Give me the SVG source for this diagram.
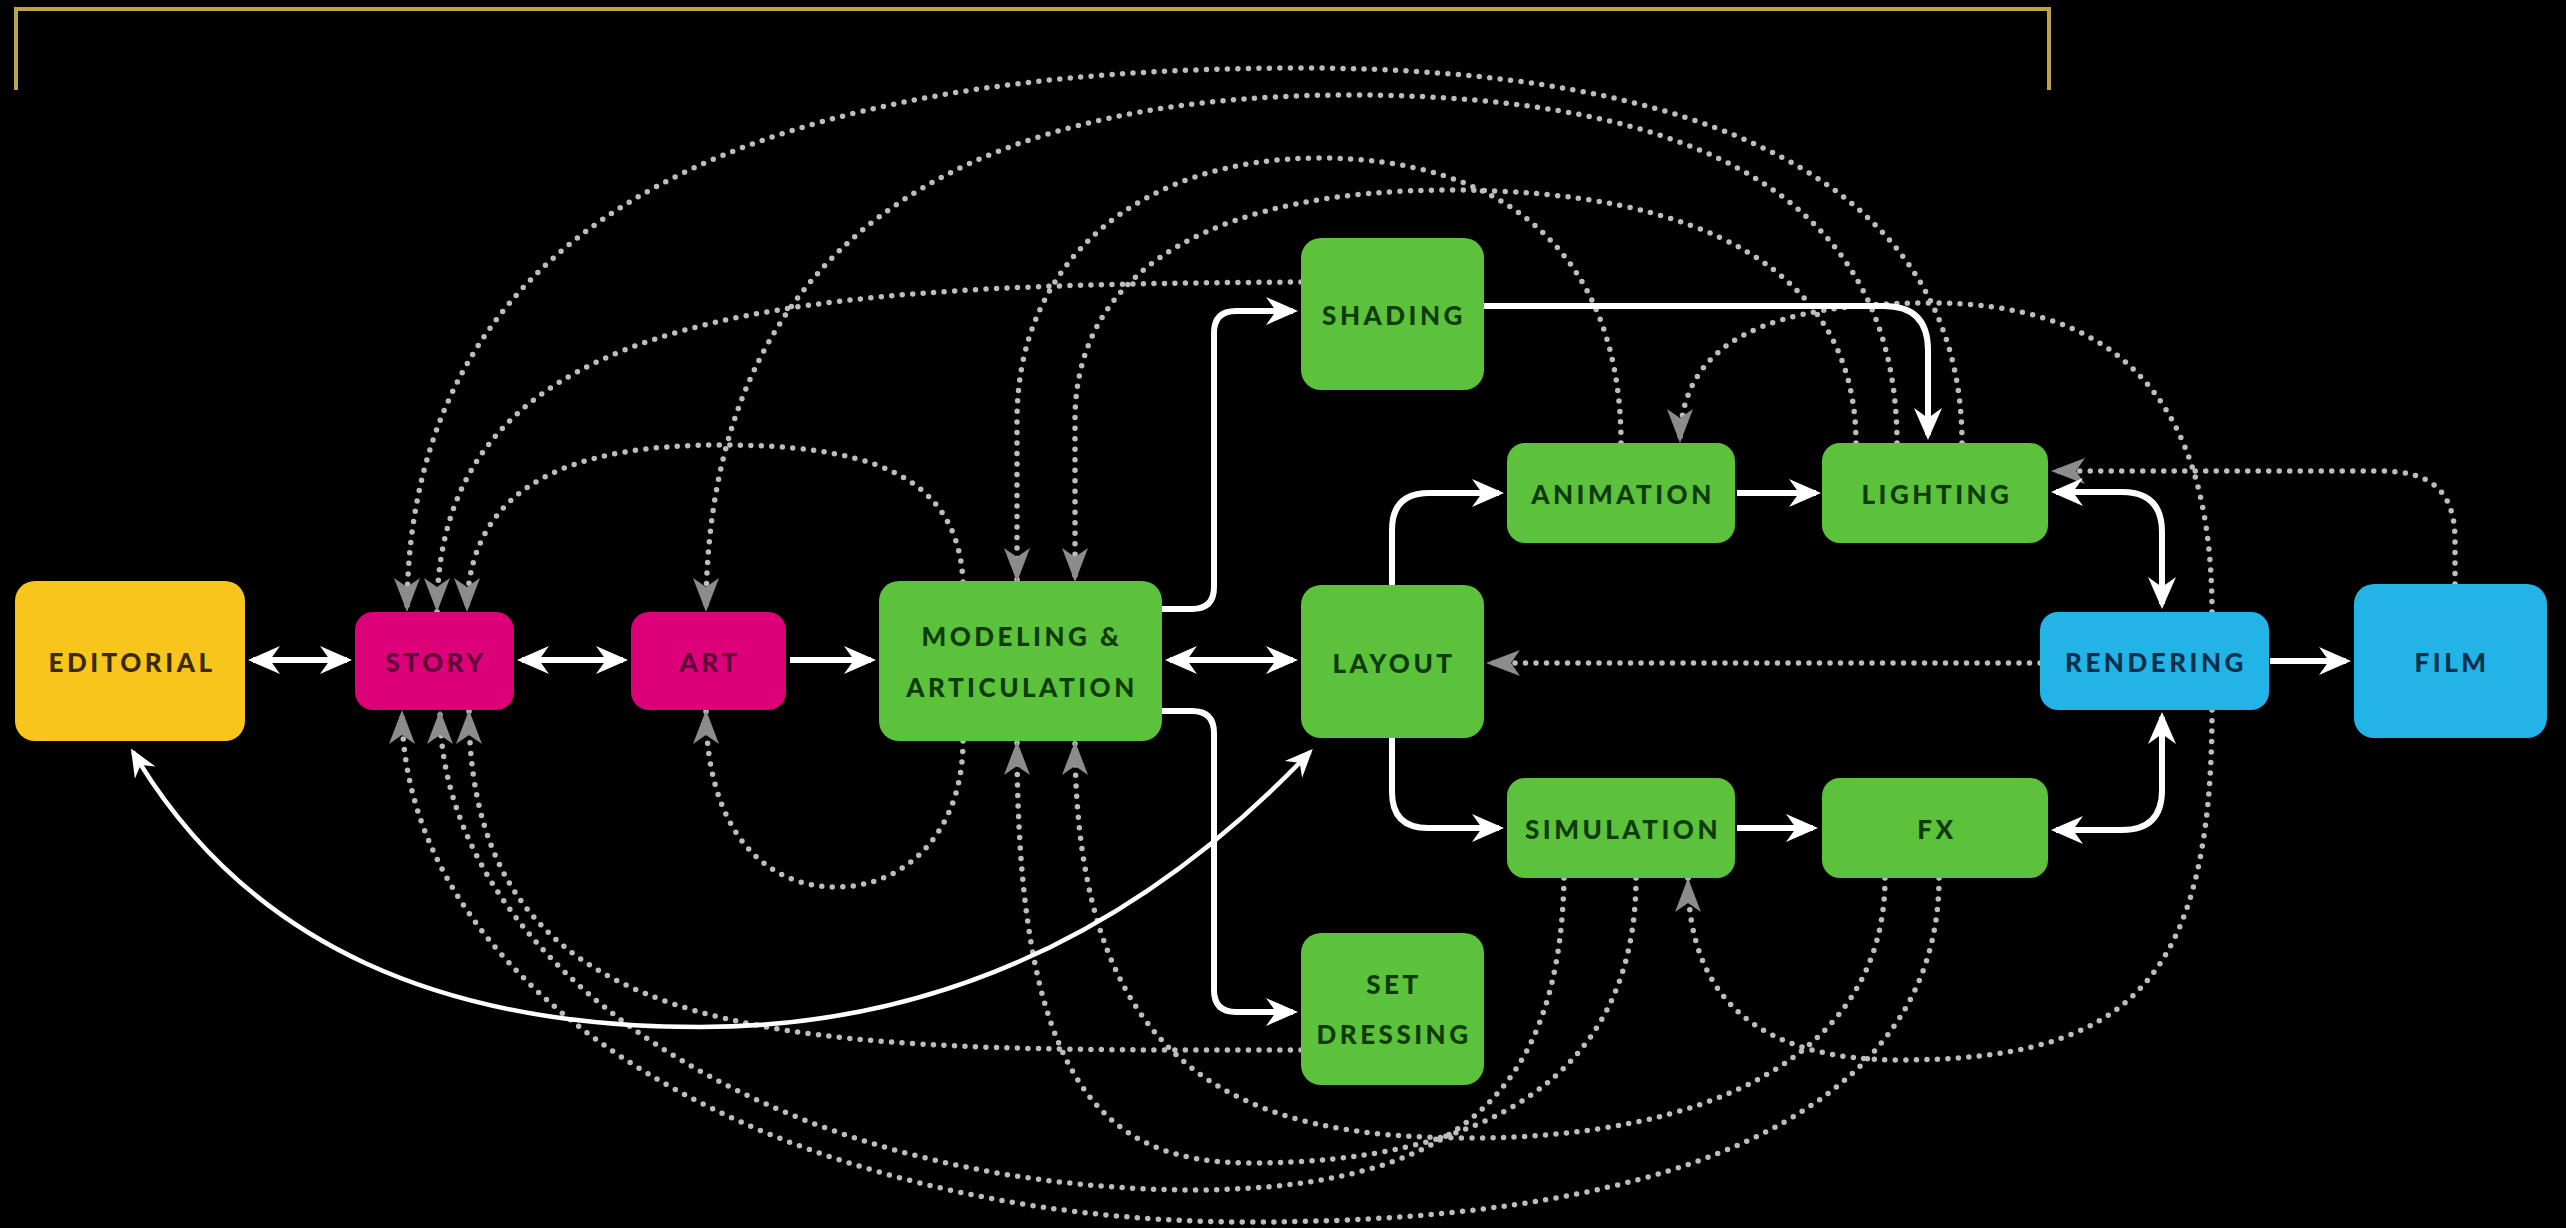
<svg xmlns="http://www.w3.org/2000/svg" width="2566" height="1228" viewBox="0 0 2566 1228">
<defs>
<style>
.dot{fill:none;stroke:#bdbdbd;stroke-width:5.5;stroke-dasharray:0 10.5;stroke-linecap:round}
.dg{marker-end:url(#ga)}
.wl{fill:none;stroke:#ffffff;stroke-width:6}
.we{marker-end:url(#wa)}
.wb{marker-start:url(#wa);marker-end:url(#wa)}
.wc{fill:none;stroke:#ffffff;stroke-width:4.5;marker-start:url(#wa2);marker-end:url(#wa2)}
.lbl{font-family:Lato,"Liberation Sans",sans-serif;font-weight:900;font-size:26px;letter-spacing:3.5px;text-anchor:middle;dominant-baseline:central}
.yel rect{fill:#f7c51b}
.yel text{fill:#3a2a02}
.mag rect{fill:#dc0079}
.mag text{fill:#5e0038}
.grn rect{fill:#5cc13b}
.grn text{fill:#0f3a0a}
.blu rect{fill:#22b3e7}
.blu text{fill:#08304a}
</style>
<marker id="ga" viewBox="-35 -14 36 28" refX="0" refY="0" markerWidth="36" markerHeight="28" markerUnits="userSpaceOnUse" orient="auto">
<path d="M0,0 L-34,-13 L-25,0 L-34,13 z" fill="#8c8c8c"/>
</marker>
<marker id="wa" viewBox="-33 -15 34 30" refX="-5" refY="0" markerWidth="34" markerHeight="30" markerUnits="userSpaceOnUse" orient="auto-start-reverse">
<path d="M0,0 L-32,-14 L-22,0 L-32,14 z" fill="#ffffff"/>
</marker>
<marker id="wa2" viewBox="-29 -13 30 26" refX="-4" refY="0" markerWidth="30" markerHeight="26" markerUnits="userSpaceOnUse" orient="auto-start-reverse">
<path d="M0,0 L-28,-12 L-19,0 L-28,12 z" fill="#ffffff"/>
</marker>
</defs>
<rect width="2566" height="1228" fill="#000000"/>
<path id="bracket" d="M16,90 L16,9 L2049,9 L2049,90" fill="none" stroke="#bfa24e" stroke-width="4"/>

<g id="connectors">
<!-- dotted feedback lines, top -->
<path class="dot dg" d="M1962,443 C1962,180 1700,68 1300,68 C780,68 407,200 407,612"/>
<path class="dot dg" d="M1897,443 C1897,200 1700,95 1350,95 C950,95 706,250 706,612"/>
<path class="dot dg" d="M1621,443 C1621,250 1500,158 1320,158 C1140,158 1017,260 1017,420 L1017,582"/>
<path class="dot dg" d="M1856,443 C1856,270 1700,190 1450,190 C1230,190 1075,260 1075,420 L1075,582"/>
<path class="dot dg" d="M1301,282 C800,285 437,300 437,612"/>
<path class="dot dg" d="M963,582 C958,470 860,445 720,445 C580,445 467,480 467,612"/>
<path class="dot dg" d="M2212,612 C2212,380 2100,303 1930,303 C1770,303 1680,340 1680,443"/>
<path class="dot dg" d="M2455,584 L2455,540 C2455,490 2430,471 2380,471 L2051,471"/>
<path class="dot dg" d="M2040,663 L1486,663"/>
<!-- dotted feedback lines, bottom -->
<path class="dot dg" d="M1939,878 C1939,1100 1700,1222 1250,1222 C780,1222 402,1000 402,710"/>
<path class="dot dg" d="M1564,878 C1560,1100 1450,1187 1200,1190 C760,1190 440,960 440,710"/>
<path class="dot dg" d="M1636,878 C1636,1080 1480,1163 1250,1163 C1100,1163 1017,1080 1017,741"/>
<path class="dot dg" d="M1885,878 C1885,1060 1700,1138 1470,1138 C1250,1138 1075,1080 1075,741"/>
<path class="dot dg" d="M1301,1050 C800,1050 469,1060 469,710"/>
<path class="dot dg" d="M963,741 C963,830 908,887 836,887 C764,887 706,830 706,710"/>
<path class="dot dg" d="M2212,710 C2212,980 2130,1060 1900,1060 C1760,1060 1688,1000 1688,878"/>

<!-- solid white flow lines -->
<path class="wl wb" d="M253,660 L347,660"/>
<path class="wl wb" d="M522,660 L623,660"/>
<path class="wl we" d="M790,660 L871,660"/>
<path class="wl wb" d="M1170,660 L1293,660"/>
<path class="wl we" d="M1162,609 L1192,609 Q1214,609 1214,587 L1214,333 Q1214,311 1236,311 L1293,311"/>
<path class="wl we" d="M1162,711 L1192,711 Q1214,711 1214,733 L1214,990 Q1214,1012 1236,1012 L1293,1012"/>
<path class="wl we" d="M1392,586 L1392,530 Q1392,493 1429,493 L1499,493"/>
<path class="wl we" d="M1392,738 L1392,792 Q1392,828 1428,828 L1499,828"/>
<path class="wl we" d="M1737,493 L1816,493"/>
<path class="wl we" d="M1737,828 L1813,828"/>
<path class="wl we" d="M1484,306 L1884,306 Q1928,306 1928,350 L1928,435"/>
<path class="wl wb" d="M2056,492 L2122,492 Q2162,492 2162,532 L2162,604"/>
<path class="wl wb" d="M2056,830 L2122,830 Q2162,830 2162,790 L2162,717"/>
<path class="wl we" d="M2270,661 L2346,661"/>
<path class="wc" d="M133,752 C250,950 450,1027 700,1027 C950,1027 1150,920 1310,752"/>
</g>

<g id="editorial" class="yel"><rect x="15" y="581" width="230" height="160" rx="20"/><text class="lbl" x="132" y="662">EDITORIAL</text></g>
<g id="story" class="mag"><rect x="355" y="612" width="159" height="98" rx="18"/><text class="lbl" x="436" y="662">STORY</text></g>
<g id="art" class="mag"><rect x="631" y="612" width="155" height="98" rx="18"/><text class="lbl" x="710" y="662">ART</text></g>
<g id="modeling" class="grn"><rect x="879" y="581" width="283" height="160" rx="20"/><text class="lbl" x="1022" y="636">MODELING &amp;</text><text class="lbl" x="1022" y="687">ARTICULATION</text></g>
<g id="shading" class="grn"><rect x="1301" y="238" width="183" height="152" rx="20"/><text class="lbl" x="1394" y="315">SHADING</text></g>
<g id="layout" class="grn"><rect x="1301" y="585" width="183" height="153" rx="20"/><text class="lbl" x="1394" y="663">LAYOUT</text></g>
<g id="set-dressing" class="grn"><rect x="1301" y="933" width="183" height="152" rx="20"/><text class="lbl" x="1394" y="984">SET</text><text class="lbl" x="1394" y="1034">DRESSING</text></g>
<g id="animation" class="grn"><rect x="1507" y="443" width="228" height="100" rx="18"/><text class="lbl" x="1623" y="494">ANIMATION</text></g>
<g id="lighting" class="grn"><rect x="1822" y="443" width="226" height="100" rx="18"/><text class="lbl" x="1937" y="494">LIGHTING</text></g>
<g id="simulation" class="grn"><rect x="1507" y="778" width="228" height="100" rx="18"/><text class="lbl" x="1623" y="829">SIMULATION</text></g>
<g id="fx" class="grn"><rect x="1822" y="778" width="226" height="100" rx="18"/><text class="lbl" x="1937" y="829">FX</text></g>
<g id="rendering" class="blu"><rect x="2040" y="612" width="229" height="98" rx="18"/><text class="lbl" x="2156" y="662">RENDERING</text></g>
<g id="film" class="blu"><rect x="2354" y="584" width="193" height="154" rx="20"/><text class="lbl" x="2452" y="662">FILM</text></g>
</svg>
